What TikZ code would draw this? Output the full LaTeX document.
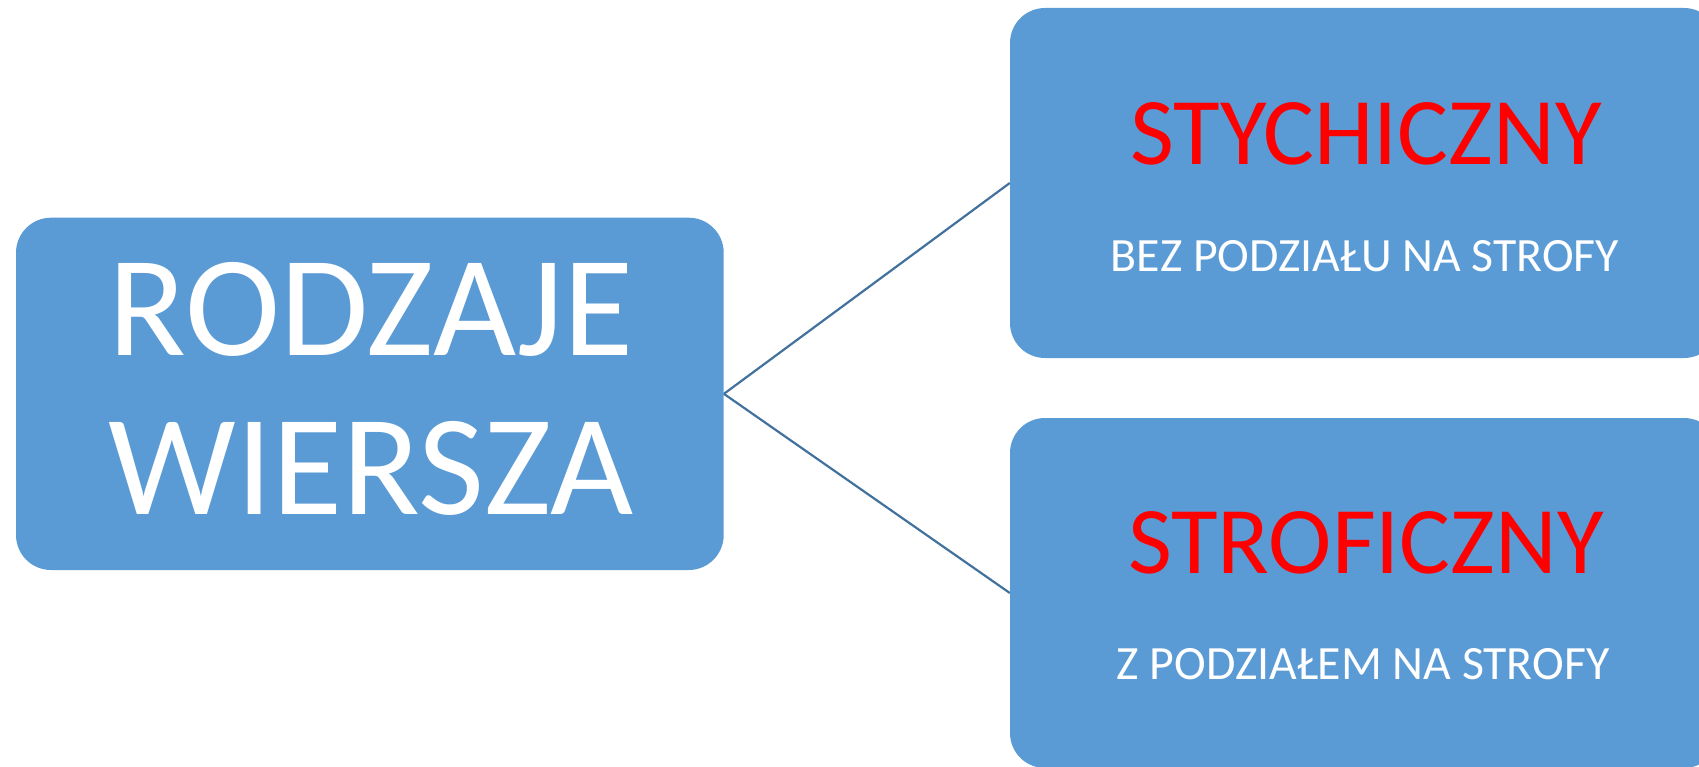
\documentclass[tikz,border=0pt]{standalone}
\usepackage{fontspec}
\setmainfont{Carlito}
\definecolor{boxblue}{HTML}{5B9BD5}
\definecolor{lineblue}{HTML}{41719C}
\definecolor{redtext}{HTML}{FF0000}
\tikzset{
  box/.style={rectangle, fill=boxblue, draw=none, rounded corners=35pt, inner sep=0pt},
  conn/.style={draw=lineblue, line width=2.2pt},
  bigtxt/.style={anchor=base, inner sep=0pt, text=white, font=\fontsize{143.5}{150}\selectfont},
  headtxt/.style={anchor=base, inner sep=0pt, text=redtext, font=\fontsize{95.5}{100}\selectfont},
  subtxt/.style={anchor=base, inner sep=0pt, text=white, font=\fontsize{47.8}{50}\selectfont},
}
\begin{document}
\begin{tikzpicture}[x=1pt, y=-1pt]
\useasboundingbox (0,0) rectangle (1699,767);
\clip (0,0) rectangle (1699,767);
\node[box, minimum width=707.7pt, minimum height=352.3pt] (root) at (369.85,393.85) {};
\node[box, minimum width=709pt, minimum height=350pt] (top) at (1364.5,183) {};
\node[box, minimum width=709pt, minimum height=350pt] (bot) at (1364.5,593) {};
\node[bigtxt] (r1) at (371,355.7) {RODZAJE};
\node[bigtxt] (r2) at (371,514) {WIERSZA};
\node[headtxt] (t1) at (1366,164.3) {STYCHICZNY};
\node[subtxt] (t2) at (1365,271.7) {BEZ PODZIAŁU NA STROFY};
\node[headtxt] (b1) at (1366,573) {STROFICZNY};
\node[subtxt] (b2) at (1363,679) {Z PODZIAŁEM NA STROFY};
\draw[conn] (root.east) -- (top.west);
\draw[conn] (root.east) -- (bot.west);
\end{tikzpicture}
\end{document}
